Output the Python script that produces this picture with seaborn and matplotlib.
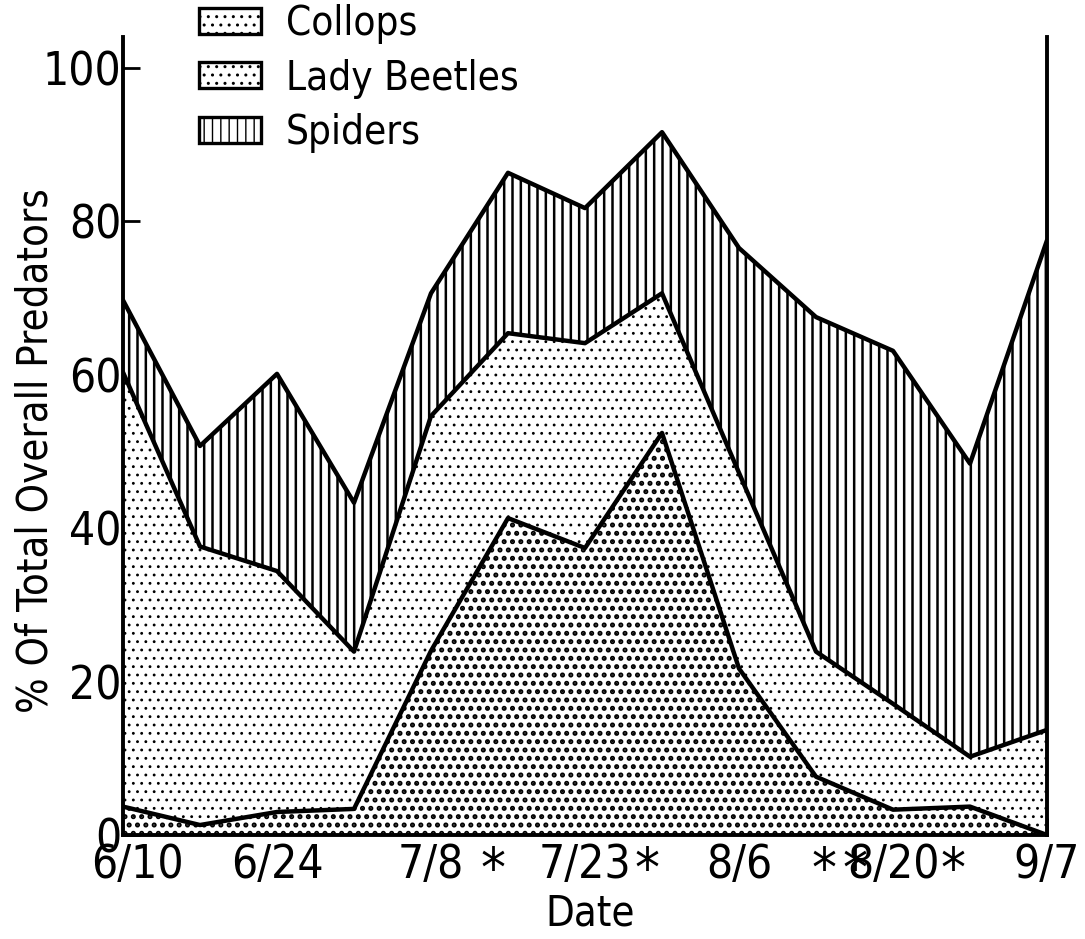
import numpy as np
import pandas as pd
import matplotlib
matplotlib.use("Agg")
import matplotlib.pyplot as plt
import matplotlib.transforms as mtransforms
from matplotlib.patches import Patch
import seaborn as sns

# ---- data (percent of total overall predators, weekly samples) ----
week = list(range(13))
tick_pos = [0, 2, 4, 6, 8, 10, 12]
tick_labels = ['6/10', '6/24', '7/8', '7/23', '8/6', '8/20', '9/7']
collops = [3.7, 1.3, 3.0, 3.4, 24.0, 41.3, 37.4, 52.4, 21.7, 7.6, 3.3, 3.7, 0.0]
lady_beetles = [56.6, 36.3, 31.4, 20.5, 30.6, 24.1, 26.7, 18.2, 25.5, 16.3, 13.8, 6.5, 13.7]
spiders = [9.4, 13.1, 25.7, 19.4, 16.0, 20.9, 17.6, 21.0, 29.3, 43.6, 46.0, 38.2, 63.8]
series_names = ['Collops', 'Lady Beetles', 'Spiders']
star_x = [4.8, 6.8, 9.1, 9.5, 10.78]
yticks = [0, 20, 40, 60, 80, 100]

sns.set_style('ticks')
plt.rcParams['font.family'] = ['DejaVu Sans']
plt.rcParams['font.stretch'] = 'condensed'
plt.rcParams['text.color'] = 'black'
plt.rcParams['axes.labelcolor'] = 'black'

fig = plt.figure(figsize=(10.85, 9.39), dpi=100)
ax = fig.add_axes([123 / 1085, 1 - 835 / 939, (1047 - 123) / 1085, (835 - 37) / 939])

layers = np.vstack([collops, lady_beetles, spiders])
tops = np.cumsum(layers, axis=0)
bottoms = np.vstack([np.zeros(len(week)), tops[:-1]])

hatches = ['..', '..', '||']
hatch_lw = [2.4, 0.85, 1.8]
handles = []
for i, name in enumerate(series_names):
    with plt.rc_context({'hatch.linewidth': hatch_lw[i]}):
        coll = ax.fill_between(week, bottoms[i], tops[i], facecolor='white',
                               edgecolor='black', hatch=hatches[i], linewidth=0)
        if hasattr(coll, 'set_hatch_linewidth'):
            coll.set_hatch_linewidth(hatch_lw[i])
        h = Patch(facecolor='white', edgecolor='black', hatch=hatches[i],
                  linewidth=2.4, label=name)
        if hasattr(h, 'set_hatch_linewidth'):
            h.set_hatch_linewidth(hatch_lw[i])
        handles.append(h)

long = pd.DataFrame({
    'week': week * 3,
    'top': np.concatenate(tops),
    'series': np.repeat(series_names, len(week)),
})
sns.lineplot(data=long, x='week', y='top', units='series', estimator=None,
             color='black', linewidth=3.2, legend=False, ax=ax)

ax.set_xlim(0, 12)
ax.set_ylim(0, 104)
ax.set_xticks(tick_pos)
ax.set_xticklabels(tick_labels)
ax.set_yticks(yticks)
ax.tick_params(direction='in', length=12, width=2, labelsize=33, colors='black')
ax.tick_params(axis='x', pad=6)
ax.tick_params(axis='y', pad=1)
for s in ['left', 'bottom', 'right']:
    ax.spines[s].set_linewidth(2.8)
    ax.spines[s].set_color('black')
ax.spines['top'].set_visible(False)

# first date label sits just right of the axis corner, as in the original
first = ax.get_xticklabels()[0]
first.set_transform(first.get_transform() +
                    mtransforms.ScaledTranslation(0.14, 0, fig.dpi_scale_trans))

ax.set_ylabel('% Of Total Overall Predators', fontsize=30)
ax.yaxis.set_label_coords(-0.072, 0.482)
ax.set_xlabel('Date', fontsize=30)
ax.xaxis.set_label_coords(0.506, -0.072)

trans = mtransforms.blended_transform_factory(ax.transData, ax.transAxes)
for sx in star_x:
    ax.text(sx, -0.012, '*', transform=trans, ha='center', va='top', fontsize=40)

leg = fig.legend(handles=handles, loc='upper left', bbox_to_anchor=(195 / 1085, 1.0),
                 frameon=False, fontsize=29, handlelength=1.55, handleheight=0.62,
                 handletextpad=0.6, labelspacing=0.36, borderpad=0.1, borderaxespad=0)

fig.savefig('out.png', dpi=100, facecolor='white')
